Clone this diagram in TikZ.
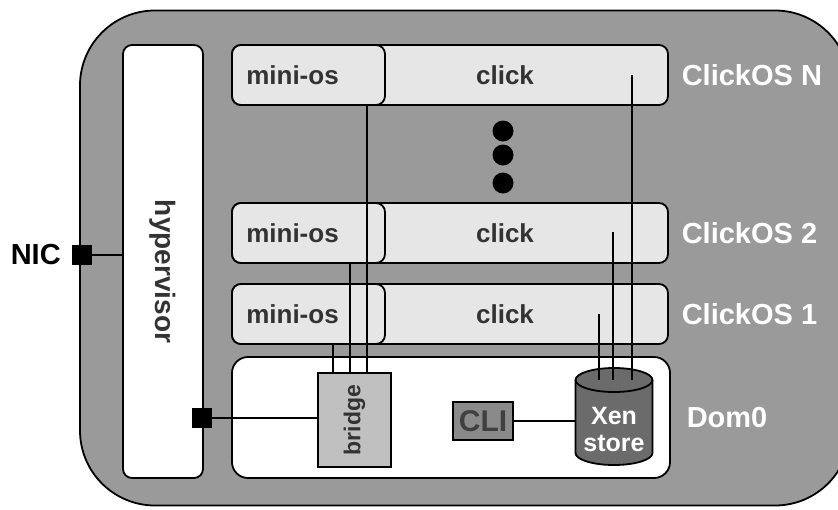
\documentclass[tikz,border=0pt]{standalone}
\usepackage{fontspec}
\setmainfont{Liberation Sans}
\usetikzlibrary{positioning,calc}
\definecolor{shell}{HTML}{9A9A9A}
\definecolor{pale}{HTML}{E6E6E6}
\definecolor{ink}{HTML}{333333}
\definecolor{brgray}{HTML}{C0C0C0}
\definecolor{stgray}{HTML}{6B6B6B}
\definecolor{cligray}{HTML}{8A8A8A}
\definecolor{clitext}{HTML}{404040}
\tikzset{every node/.style={font=\bfseries\fontsize{26}{30}\selectfont,text=ink},
  host/.style={draw,fill=shell,rounded corners=75pt,minimum width=770pt,minimum height=495pt},
  hvbox/.style={draw,fill=white,rounded corners=9pt,minimum width=80pt,minimum height=433pt},
  vmbox/.style={draw,fill=pale,rounded corners=9pt,minimum width=436pt,minimum height=60pt},
  osbox/.style={draw,fill=pale,rounded corners=9pt,minimum width=153pt,minimum height=60pt},
  dombox/.style={draw,fill=white,rounded corners=16pt,minimum width=438pt,minimum height=121pt},
  brbox/.style={draw,fill=brgray,minimum width=73pt,minimum height=94pt,inner sep=0},
  clibox/.style={draw,fill=cligray,text=clitext,minimum width=60pt,minimum height=38pt,
    inner sep=0,font=\bfseries\fontsize{30}{30}\selectfont},
  port/.style={draw,fill=black,minimum size=19pt,inner sep=0},
  dot/.style={circle,fill=black,minimum size=21pt,inner sep=0},
  tag/.style={text=white,inner sep=0,font=\bfseries\fontsize{29}{30}\selectfont},
  lid/.style={x radius=38.5pt,y radius=12pt}}
\newcommand{\mos}{mini-os\kern32pt}
\begin{document}
\begin{tikzpicture}[x=1pt,y=-1pt,line width=1.8pt]
\useasboundingbox (0,0) rectangle (838,509);
\node[host] (host) at (465,258) {};
\node[hvbox] (hv) at (163,261.5) {\rotatebox{-90}{\fontsize{28}{30}\selectfont\kern20pt hypervisor}};

% the ClickOS domains
\node[vmbox] (vmN) at (450,75) {};
\node[osbox] (mosN) at (308.5,75) {\mos};
\node (clkN) at (505,75) {click};
\node[tag,right=12pt of vmN] {ClickOS N};
\node[vmbox] (vm2) at (450,233) {};
\node[osbox] (mos2) at (308.5,233) {\mos};
\node (clk2) at (505,233) {click};
\node[tag,right=12pt of vm2] {ClickOS 2};
\node[vmbox] (vm1) at (450,314) {};
\node[osbox] (mos1) at (308.5,314) {\mos};
\node (clk1) at (505,314) {click};
\node[tag,right=12pt of vm1] {ClickOS 1};
\node[dot] (d1) at (503,131) {};
\node[dot] (d2) at (503,155) {};
\node[dot] (d3) at (503,183) {};

% Dom0
\node[dombox] (dom0) at (451,417.5) {};
\node[tag,right=15pt of dom0] {Dom0};
\node[brbox] (br) at (354.5,420) {\rotatebox{90}{\fontsize{23}{25}\selectfont bridge}};
% xen store drum
\coordinate (xstop) at (614,380);
\coordinate (xsw) at (575.5,421);
\draw[fill=stgray] (575.5,380) -- (575.5,453) arc[start angle=180,end angle=360,lid]
  -- (652.5,380) arc[start angle=0,end angle=180,lid] -- cycle;
\draw (575.5,380) arc[start angle=180,end angle=360,lid];
\node[text=white,align=center,inner sep=0,font=\bfseries\fontsize{25}{27}\selectfont] (xst) at (614,430) {Xen\\store};
\node[clibox] (cli) at (483,421) {CLI};

\node[port] (nic) at (82,255) {};
\node[left=10pt of nic,inner sep=0,text=black,font=\bfseries\fontsize{29}{30}\selectfont] {NIC};
\node[port] (vif) at (202,418) {};

\draw (nic) -- (nic -| hv.west);
\draw (vif) -- (vif -| br.west);
\draw (cli.east) -- (cli.east -| xsw);

\coordinate (b1) at ([xshift=16pt]br.north west);
\coordinate (b2) at ([xshift=33pt]br.north west);
\coordinate (b3) at ([xshift=50pt]br.north west);
\draw (b1) -- (b1 |- mos1.south);
\draw (b2) -- (b2 |- mos2.south);
\draw (b3) -- (b3 |- mosN.south);

\coordinate (ck1) at (599,314);
\coordinate (ck2) at (613,232);
\coordinate (ckN) at (632,75);
\draw (ck1) -- (ck1 |- xstop);
\draw (ck2) -- (ck2 |- xstop);
\draw (ckN) -- (ckN |- xstop);
\end{tikzpicture}
\end{document}
